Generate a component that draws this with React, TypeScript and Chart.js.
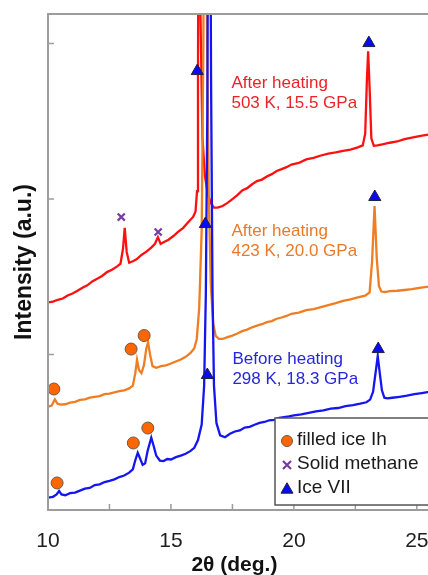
import React, { useEffect, useRef } from "react";
import { Chart, registerables } from "chart.js";

Chart.register(...registerables);

// ---- Data ----
const blueX = [10.0, 10.2, 10.35, 10.45, 10.55, 10.7, 10.9, 11.1, 11.3, 11.5, 11.7, 11.9, 12.1, 12.3, 12.5, 12.7, 12.9, 13.1, 13.3, 13.45, 13.55, 13.65, 13.75, 13.85, 13.95, 14.05, 14.2, 14.3, 14.4, 14.55, 14.7, 14.85, 15.0, 15.2, 15.4, 15.6, 15.8, 15.95, 16.1, 16.25, 16.35, 16.42, 16.48, 16.56, 16.63, 16.69, 16.75, 16.85, 17.0, 17.2, 17.4, 17.6, 17.8, 18.0, 18.2, 18.4, 18.6, 18.8, 19.0, 19.2, 19.4, 19.6, 19.8, 20.0, 20.3, 20.6, 20.9, 21.2, 21.5, 21.8, 22.1, 22.4, 22.7, 22.95, 23.1, 23.22, 23.32, 23.41, 23.5, 23.58, 23.68, 23.8, 24.0, 24.3, 24.6, 24.9, 25.2, 25.5, 25.8, 26.2, 26.8];
const blueY = [0.080, 0.085, 0.100, 0.122, 0.100, 0.095, 0.108, 0.112, 0.125, 0.137, 0.142, 0.160, 0.165, 0.180, 0.188, 0.197, 0.212, 0.222, 0.240, 0.262, 0.320, 0.368, 0.330, 0.290, 0.300, 0.380, 0.465, 0.410, 0.350, 0.318, 0.315, 0.328, 0.325, 0.340, 0.350, 0.362, 0.380, 0.400, 0.450, 0.550, 0.800, 1.400, 2.600, 6.000, 2.800, 1.400, 0.800, 0.560, 0.480, 0.468, 0.490, 0.505, 0.512, 0.530, 0.535, 0.548, 0.560, 0.566, 0.577, 0.580, 0.592, 0.597, 0.602, 0.608, 0.615, 0.625, 0.634, 0.640, 0.652, 0.656, 0.668, 0.675, 0.684, 0.693, 0.710, 0.760, 0.880, 0.990, 0.870, 0.770, 0.722, 0.718, 0.722, 0.728, 0.735, 0.745, 0.752, 0.760, 0.768, 0.775, 0.785];

const orangeX = [10.0, 10.15, 10.28, 10.38, 10.5, 10.7, 10.9, 11.1, 11.3, 11.5, 11.7, 11.9, 12.1, 12.3, 12.5, 12.7, 12.9, 13.1, 13.3, 13.45, 13.55, 13.62, 13.7, 13.8, 13.9, 14.0, 14.07, 14.15, 14.25, 14.4, 14.6, 14.8, 15.0, 15.2, 15.4, 15.6, 15.8, 15.95, 16.05, 16.15, 16.25, 16.32, 16.39, 16.46, 16.54, 16.62, 16.72, 16.82, 16.95, 17.1, 17.3, 17.5, 17.7, 17.9, 18.1, 18.3, 18.5, 18.7, 18.9, 19.1, 19.3, 19.5, 19.7, 19.9, 20.2, 20.5, 20.8, 21.1, 21.4, 21.7, 22.0, 22.3, 22.6, 22.9, 23.08, 23.18, 23.28, 23.37, 23.46, 23.56, 23.7, 23.9, 24.2, 24.5, 24.8, 25.1, 25.4, 25.8, 26.2, 26.8];
const orangeY = [0.665, 0.672, 0.712, 0.685, 0.678, 0.680, 0.690, 0.695, 0.708, 0.712, 0.722, 0.728, 0.732, 0.745, 0.748, 0.757, 0.765, 0.770, 0.782, 0.800, 0.880, 0.965, 0.900, 0.880, 0.930, 1.040, 1.078, 1.000, 0.925, 0.915, 0.925, 0.930, 0.942, 0.955, 0.968, 0.985, 1.010, 1.040, 1.100, 1.300, 1.800, 3.000, 7.000, 3.200, 2.000, 1.450, 1.200, 1.120, 1.100, 1.100, 1.112, 1.122, 1.135, 1.150, 1.160, 1.175, 1.186, 1.195, 1.208, 1.215, 1.230, 1.238, 1.248, 1.262, 1.270, 1.285, 1.292, 1.305, 1.318, 1.330, 1.345, 1.355, 1.368, 1.378, 1.400, 1.600, 1.955, 1.620, 1.440, 1.405, 1.402, 1.408, 1.410, 1.415, 1.420, 1.428, 1.435, 1.442, 1.450, 1.460];

const redX = [10.0, 10.2, 10.4, 10.6, 10.8, 11.0, 11.2, 11.4, 11.6, 11.8, 12.0, 12.2, 12.4, 12.6, 12.8, 12.95, 13.05, 13.12, 13.2, 13.3, 13.45, 13.6, 13.8, 14.0, 14.2, 14.35, 14.47, 14.58, 14.7, 14.9, 15.1, 15.3, 15.5, 15.7, 15.9, 16.0, 16.06, 16.1, 16.15, 16.2, 16.28, 16.38, 16.5, 16.62, 16.75, 16.9, 17.1, 17.3, 17.5, 17.7, 17.9, 18.1, 18.3, 18.5, 18.7, 18.9, 19.1, 19.3, 19.5, 19.7, 19.9, 20.2, 20.5, 20.8, 21.1, 21.4, 21.7, 22.0, 22.3, 22.6, 22.8, 22.9, 22.97, 23.02, 23.08, 23.15, 23.25, 23.4, 23.6, 23.9, 24.2, 24.5, 24.8, 25.1, 25.4, 25.8, 26.2, 26.8];
const redY = [1.335, 1.340, 1.352, 1.360, 1.380, 1.392, 1.410, 1.430, 1.445, 1.470, 1.488, 1.505, 1.530, 1.545, 1.565, 1.585, 1.680, 1.815, 1.660, 1.590, 1.600, 1.612, 1.640, 1.662, 1.688, 1.712, 1.755, 1.712, 1.722, 1.738, 1.762, 1.790, 1.815, 1.850, 1.885, 1.920, 2.050, 2.800, 6.000, 3.200, 2.400, 2.150, 2.030, 1.975, 1.945, 1.945, 1.955, 1.975, 2.000, 2.025, 2.055, 2.070, 2.095, 2.115, 2.125, 2.145, 2.160, 2.180, 2.192, 2.205, 2.222, 2.232, 2.255, 2.265, 2.280, 2.292, 2.300, 2.310, 2.318, 2.332, 2.345, 2.420, 2.770, 2.950, 2.710, 2.390, 2.342, 2.345, 2.352, 2.362, 2.370, 2.385, 2.395, 2.405, 2.412, 2.420, 2.428, 2.440];

// marker positions
const filledIceX = [10.37, 13.47, 14.06, 10.24, 13.38, 13.91];
const filledIceY = [0.174, 0.431, 0.527, 0.778, 1.035, 1.122];
const methaneX = [12.98, 14.48];
const methaneY = [1.884, 1.788];
const iceVIIX = [16.07, 23.05, 16.40, 23.29, 16.48, 23.43];
const iceVIIY = [2.823, 3.003, 1.839, 2.013, 0.868, 1.035];

const xTicks = [10, 12.5, 15, 17.5, 20, 22.5, 25];
const yTicks = [1, 2, 3];

const xTitle = "2θ (deg.)";
const yTitle = "Intensity (a.u.)";
const legendLabels = ["filled ice Ih", "Solid methane", "Ice VII"];
const redLabel = ["After heating", "503 K, 15.5 GPa"];
const orangeLabel = ["After heating", "423 K, 20.0 GPa"];
const blueLabel = ["Before heating", "298 K, 18.3 GPa"];

// ---- Styles ----
const FONT = '"Liberation Sans", Arial, sans-serif';
const RED = "#ff1010";
const ORANGE = "#f07d22";
const BLUE = "#1515f0";
const RED_TEXT = "#ec2228";
const ORANGE_TEXT = "#e97a2a";
const BLUE_TEXT = "#2626dc";
const CIRCLE_FILL = "#ff6600";
const CIRCLE_BORDER = "#6b5a50";
const PURPLE = "#7a3aa6";
const TRI_FILL = "#0a0af5";
const TRI_BORDER = "#20203a";

const pts = (xs: number[], ys: number[]) => xs.map((x, i) => ({ x, y: ys[i] }));

const annotations = [
  { lines: redLabel, color: RED_TEXT, x: 17.46, y: 2.714 },
  { lines: orangeLabel, color: ORANGE_TEXT, x: 17.46, y: 1.762 },
  { lines: blueLabel, color: BLUE_TEXT, x: 17.5, y: 0.939 },
];

function drawCircle(ctx: CanvasRenderingContext2D, cx: number, cy: number, r: number) {
  ctx.beginPath();
  ctx.arc(cx, cy, r, 0, Math.PI * 2);
  ctx.fillStyle = CIRCLE_FILL;
  ctx.fill();
  ctx.lineWidth = 1;
  ctx.strokeStyle = CIRCLE_BORDER;
  ctx.stroke();
}
function drawCross(ctx: CanvasRenderingContext2D, cx: number, cy: number, r: number) {
  ctx.beginPath();
  ctx.moveTo(cx - r, cy - r);
  ctx.lineTo(cx + r, cy + r);
  ctx.moveTo(cx + r, cy - r);
  ctx.lineTo(cx - r, cy + r);
  ctx.lineWidth = 2.2;
  ctx.strokeStyle = PURPLE;
  ctx.stroke();
}
function drawTri(ctx: CanvasRenderingContext2D, cx: number, cy: number, w: number) {
  const h = w * 0.87;
  ctx.beginPath();
  ctx.moveTo(cx, cy - h * 0.6);
  ctx.lineTo(cx + w / 2, cy + h * 0.4);
  ctx.lineTo(cx - w / 2, cy + h * 0.4);
  ctx.closePath();
  ctx.fillStyle = TRI_FILL;
  ctx.fill();
  ctx.lineWidth = 1;
  ctx.strokeStyle = TRI_BORDER;
  ctx.stroke();
}

const overlayPlugin = {
  id: "overlay",
  afterDraw(chart: any) {
    const { ctx, chartArea: a } = chart;
    const xs = chart.scales.x;
    const ys = chart.scales.y;
    ctx.save();
    // frame
    ctx.strokeStyle = "#9c9c9c";
    ctx.lineWidth = 2;
    ctx.strokeRect(a.left, a.top, a.right - a.left, a.bottom - a.top);
    // inward ticks
    ctx.lineWidth = 1.5;
    ctx.beginPath();
    xTicks.forEach((v) => {
      const px = xs.getPixelForValue(v);
      ctx.moveTo(px, a.bottom);
      ctx.lineTo(px, a.bottom - 6);
    });
    yTicks.forEach((v) => {
      const py = ys.getPixelForValue(v);
      ctx.moveTo(a.left, py);
      ctx.lineTo(a.left + 6, py);
    });
    ctx.stroke();

    // x-axis title (offset left of centre, as in the reference)
    ctx.font = `bold 21px ${FONT}`;
    ctx.fillStyle = "#111";
    ctx.textAlign = "center";
    ctx.textBaseline = "middle";
    ctx.fillText(xTitle, xs.getPixelForValue(17.58), a.bottom + 55);

    // annotations
    ctx.font = `17px ${FONT}`;
    ctx.textBaseline = "alphabetic";
    ctx.textAlign = "left";
    annotations.forEach((an) => {
      ctx.fillStyle = an.color;
      const px = xs.getPixelForValue(an.x);
      const py = ys.getPixelForValue(an.y);
      an.lines.forEach((t, i) => ctx.fillText(t, px, py + i * 20));
    });

    // legend box
    const lx = a.left + 227;
    const ly = a.top + 404;
    const lb = a.bottom - 5;
    ctx.fillStyle = "#ffffff";
    ctx.fillRect(lx, ly, a.right + 20 - lx, lb - ly);
    ctx.strokeStyle = "#555555";
    ctx.lineWidth = 1.5;
    ctx.strokeRect(lx, ly, a.right + 20 - lx, lb - ly);
    ctx.font = `19px ${FONT}`;
    ctx.textBaseline = "middle";
    const rows = [ly + 22, ly + 46, ly + 70];
    const mx = lx + 12;
    drawCircle(ctx, mx, rows[0] + 1, 5.5);
    drawCross(ctx, mx, rows[1] + 1, 4);
    drawTri(ctx, mx, rows[2] + 1, 12);
    ctx.fillStyle = "#1a1a1a";
    legendLabels.forEach((t, i) => ctx.fillText(t, lx + 22, rows[i]));
    ctx.restore();
  },
};

export default function App() {
  const canvasRef = useRef<HTMLCanvasElement | null>(null);

  useEffect(() => {
    const canvas = canvasRef.current;
    if (!canvas) return;
    const line = (data: any, color: string, order: number) => ({
      type: "scatter" as const,
      data,
      showLine: true,
      borderColor: color,
      backgroundColor: color,
      borderWidth: 2.3,
      pointRadius: 0,
      tension: 0,
      clip: 0,
      order,
    });
    const chart = new Chart(canvas, {
      type: "scatter",
      data: {
        datasets: [
          {
            data: pts(filledIceX, filledIceY),
            pointStyle: "circle",
            pointRadius: 6,
            backgroundColor: CIRCLE_FILL,
            borderColor: CIRCLE_BORDER,
            borderWidth: 1,
            order: 0,
          } as any,
          {
            data: pts(methaneX, methaneY),
            pointStyle: "crossRot",
            pointRadius: 5,
            borderColor: PURPLE,
            borderWidth: 2.2,
            order: 0,
          } as any,
          {
            data: pts(iceVIIX, iceVIIY),
            pointStyle: "triangle",
            pointRadius: 7,
            backgroundColor: TRI_FILL,
            borderColor: TRI_BORDER,
            borderWidth: 1,
            order: 0,
          } as any,
          line(pts(blueX, blueY), BLUE, 1) as any,
          line(pts(orangeX, orangeY), ORANGE, 2) as any,
          line(pts(redX, redY), RED, 3) as any,
        ],
      },
      options: {
        responsive: false,
        animation: false,
        events: [],
        layout: { padding: { left: 10, top: 14, right: 0, bottom: 0 } },
        plugins: { legend: { display: false }, tooltip: { enabled: false } },
        scales: {
          x: {
            type: "linear",
            min: 10,
            max: 26.43,
            grid: { display: false, drawTicks: false },
            border: { display: false },
            afterBuildTicks: (s: any) => {
              s.ticks = xTicks.map((v) => ({ value: v }));
            },
            afterFit: (s: any) => {
              s.height = 65;
            },
            ticks: {
              autoSkip: false,
              maxRotation: 0,
              padding: 21,
              color: "#1e1e1e",
              font: { family: FONT, size: 21, lineHeight: 1 },
              callback: (v: any) => (Number(v) % 5 === 0 ? String(v) : ""),
            },
            title: { display: false },
          },
          y: {
            type: "linear",
            min: 0,
            max: 3.19,
            grid: { display: false, drawTicks: false },
            border: { display: false },
            afterBuildTicks: (s: any) => {
              s.ticks = yTicks.map((v) => ({ value: v }));
            },
            afterFit: (s: any) => {
              s.width = 38;
            },
            ticks: { display: false },
            title: {
              display: true,
              text: yTitle,
              color: "#111",
              padding: { top: 3, bottom: 0 },
              font: { family: FONT, size: 23, weight: "bold", lineHeight: 1 },
            },
          },
        },
      },
      plugins: [overlayPlugin],
    } as any);
    return () => chart.destroy();
  }, []);

  return (
    <div style={{ position: "fixed", left: 0, top: 0, width: 428, height: 575, overflow: "hidden", background: "#fff" }}>
      <canvas ref={canvasRef} width={460} height={575} style={{ display: "block", width: 460, height: 575 }} />
    </div>
  );
}
